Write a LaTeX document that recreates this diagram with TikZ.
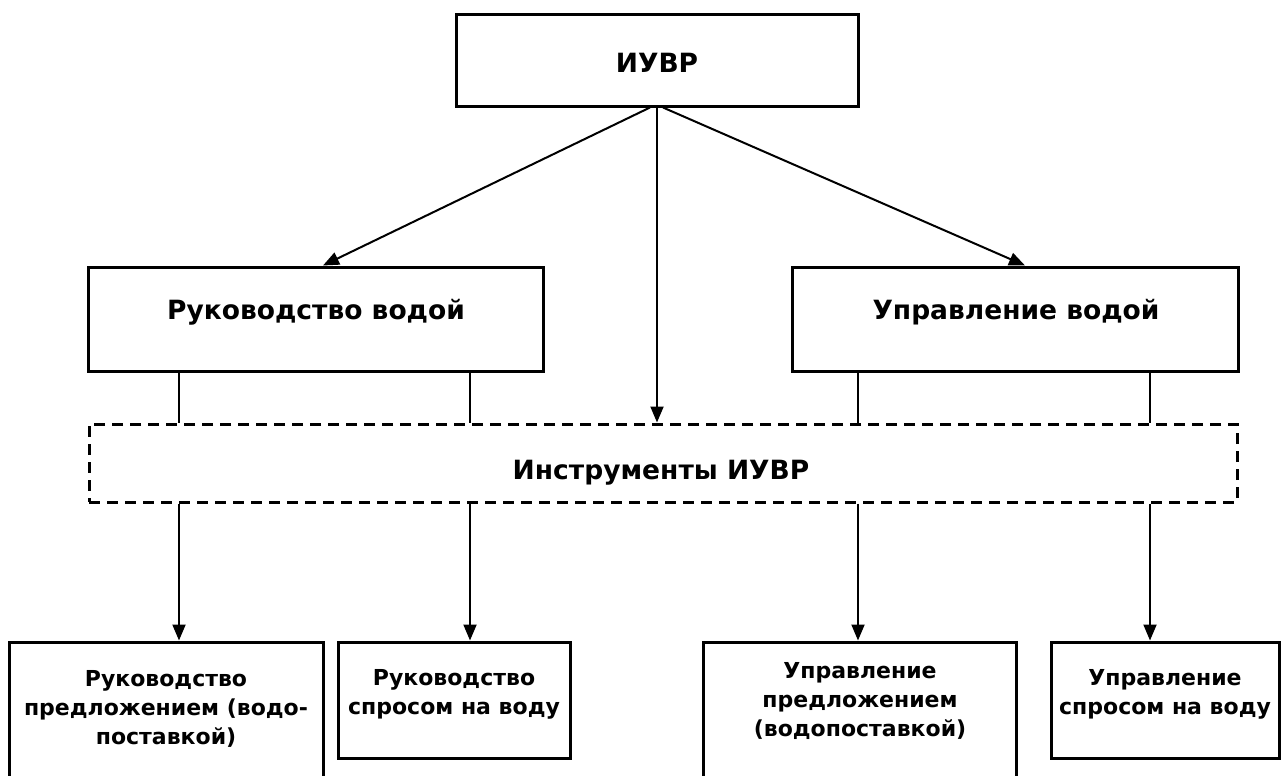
\documentclass[tikz,border=0pt]{standalone}
\usepackage{fontspec}
\setmainfont{DejaVu Sans}
\usetikzlibrary{arrows.meta}
\begin{document}
\begin{tikzpicture}[x=1pt,y=-1pt,
  box/.style={draw, line width=3pt, rectangle, inner sep=0pt},
  dbox/.style={draw, line width=3pt, dash pattern=on 11pt off 7pt, rectangle, inner sep=0pt},
  lab/.style={font=\bfseries\fontsize{26.5}{30}\selectfont, align=center, inner sep=0pt, anchor=base},
  slab/.style={font=\bfseries\fontsize{22}{29}\selectfont, align=center, inner sep=0pt},
  link/.style={line width=2pt},
  arr/.style={link, -{Triangle[length=16pt,width=13pt]}}]
  % page frame; the two tall boxes at the bottom run past it
  \clip (0,0) rectangle (1283,776);
  \fill[white] (0,0) rectangle (1283,776);

  % column positions of the vertical links
  \coordinate (c1) at (179,0);
  \coordinate (c2) at (470,0);
  \coordinate (c3) at (858,0);
  \coordinate (c4) at (1150,0);

  % boxes
  \node[box, minimum width=402pt, minimum height=91pt] (top) at (657,60.5) {};
  \node[box, minimum width=455pt, minimum height=104pt] (lw) at (315.5,319) {};
  \node[box, minimum width=446pt, minimum height=104pt] (rw) at (1015,319) {};
  \node[dbox, minimum width=1148pt, minimum height=78pt] (ins) at (663,463) {};
  \node[box, minimum width=314pt, minimum height=160pt] (b1) at (166,722) {};
  \node[box, minimum width=232pt, minimum height=116pt] (b2) at (454,700) {};
  \node[box, minimum width=313pt, minimum height=160pt] (b3) at (859.5,722) {};
  \node[box, minimum width=228pt, minimum height=116pt] (b4) at (1165,700) {};

  % texts
  \node[lab] (topt) at (657,73) {ИУВР};
  \node[lab] (lwt) at (316,319) {Руководство водой};
  \node[lab] (rwt) at (1016,319) {Управление водой};
  \node[lab] (inst) at (661,479) {Инструменты ИУВР};
  \node[slab] (b1t) at (166,709) {Руководство\\предложением (водо-\\поставкой)};
  \node[slab] (b2t) at (454,694) {Руководство\\спросом на воду};
  \node[slab] (b3t) at (860,701) {Управление\\предложением\\(водопоставкой)};
  \node[slab] (b4t) at (1165,694) {Управление\\спросом на воду};

  % links from the top box
  \draw[arr] ([xshift=-7pt]top.south) -- ([xshift=7.5pt]lw.north);
  \draw[arr] ([xshift=6pt]top.south) -- ([xshift=10pt]rw.north);
  \draw[arr] (top.south) -- (top.south |- ins.north);

  % links into the instruments box
  \draw[link] (c1 |- lw.south) -- (c1 |- ins.north);
  \draw[link] (c2 |- lw.south) -- (c2 |- ins.north);
  \draw[link] (c3 |- rw.south) -- (c3 |- ins.north);
  \draw[link] (c4 |- rw.south) -- (c4 |- ins.north);

  % links down to the four tools
  \draw[arr] (c1 |- ins.south) -- (c1 |- b1.north);
  \draw[arr] (c2 |- ins.south) -- (c2 |- b2.north);
  \draw[arr] (c3 |- ins.south) -- (c3 |- b3.north);
  \draw[arr] (c4 |- ins.south) -- (c4 |- b4.north);
\end{tikzpicture}
\end{document}
